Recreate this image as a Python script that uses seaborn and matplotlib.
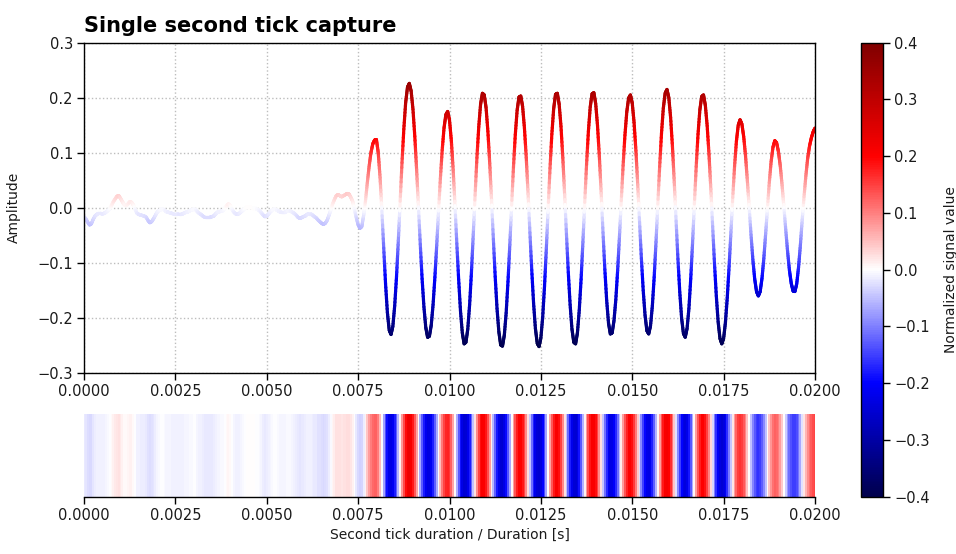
import numpy as np
import matplotlib
matplotlib.use("Agg")
import matplotlib.pyplot as plt
import seaborn as sns
from matplotlib.collections import LineCollection
from matplotlib.colors import Normalize

# ---------------- data ----------------
SAMPLE_STEP = 0.00005  # seconds between samples

# quiet part before the tick (t = 0 ... 0.00765 s)
pre_tick_signal = [
    -0.016, -0.020, -0.026, -0.031, -0.029, -0.021, -0.015, -0.012, -0.010, -0.010,
    -0.011, -0.010, -0.008, -0.005, -0.002, 0.004, 0.011, 0.016, 0.021, 0.022,
    0.017, 0.011, 0.006, 0.004, 0.007, 0.011, 0.010, 0.005, -0.003, -0.010,
    -0.012, -0.013, -0.014, -0.015, -0.017, -0.023, -0.027, -0.025, -0.020, -0.014,
    -0.008, -0.005, -0.003, -0.002, -0.004, -0.007, -0.008, -0.009, -0.010, -0.011,
    -0.011, -0.011, -0.012, -0.012, -0.011, -0.009, -0.008, -0.007, -0.005, -0.004,
    -0.002, -0.003, -0.007, -0.010, -0.012, -0.015, -0.017, -0.017, -0.017, -0.017,
    -0.016, -0.015, -0.011, -0.008, -0.007, -0.006, -0.005, -0.001, 0.004, 0.007,
    0.004, -0.003, -0.008, -0.011, -0.012, -0.010, -0.007, -0.004, -0.001, 0.001,
    0.001, 0.001, 0.000, 0.000, -0.001, -0.003, -0.005, -0.009, -0.013, -0.016,
    -0.015, -0.011, -0.007, -0.004, -0.002, -0.003, -0.005, -0.007, -0.008, -0.008,
    -0.008, -0.006, -0.005, -0.006, -0.008, -0.010, -0.013, -0.017, -0.019, -0.018,
    -0.016, -0.015, -0.012, -0.011, -0.011, -0.013, -0.016, -0.018, -0.022, -0.025,
    -0.028, -0.030, -0.028, -0.023, -0.014, -0.004, 0.007, 0.015, 0.022, 0.024,
    0.022, 0.020, 0.022, 0.024, 0.026, 0.025, 0.019, 0.012, -0.003, -0.018,
    -0.031, -0.037, -0.034, -0.014,
]

# the tick tone itself (t = 0.0077 ... 0.0200 s)
tick_signal = [
    0.012, 0.045, 0.075, 0.100, 0.116, 0.123,
    0.124, 0.100, 0.055, -0.006, -0.073, -0.138, -0.190, -0.222, -0.230, -0.215,
    -0.178, -0.125, -0.059, 0.012, 0.082, 0.143, 0.191, 0.219, 0.226, 0.212,
    0.179, 0.130, 0.069, 0.002, -0.066, -0.129, -0.180, -0.217, -0.235, -0.233,
    -0.213, -0.176, -0.126, -0.068, -0.006, 0.053, 0.105, 0.145, 0.169, 0.175,
    0.159, 0.122, 0.069, 0.004, -0.065, -0.130, -0.187, -0.227, -0.247, -0.244,
    -0.220, -0.176, -0.117, -0.048, 0.023, 0.091, 0.147, 0.188, 0.208, 0.205,
    0.182, 0.139, 0.081, 0.014, -0.057, -0.125, -0.183, -0.225, -0.249, -0.251,
    -0.231, -0.191, -0.134, -0.067, 0.005, 0.074, 0.133, 0.177, 0.201, 0.203,
    0.184, 0.145, 0.091, 0.025, -0.045, -0.113, -0.173, -0.219, -0.246, -0.252,
    -0.236, -0.198, -0.142, -0.073, 0.001, 0.072, 0.134, 0.180, 0.206, 0.208,
    0.188, 0.148, 0.091, 0.024, -0.048, -0.117, -0.176, -0.220, -0.244, -0.247,
    -0.227, -0.186, -0.130, -0.062, 0.010, 0.079, 0.139, 0.183, 0.207, 0.209,
    0.189, 0.149, 0.093, 0.026, -0.045, -0.112, -0.168, -0.209, -0.229, -0.227,
    -0.205, -0.167, -0.114, -0.052, 0.013, 0.077, 0.132, 0.174, 0.199, 0.205,
    0.190, 0.155, 0.104, 0.042, -0.026, -0.092, -0.150, -0.195, -0.223, -0.229,
    -0.214, -0.178, -0.126, -0.062, 0.007, 0.075, 0.135, 0.181, 0.208, 0.215,
    0.200, 0.164, 0.111, 0.046, -0.024, -0.093, -0.153, -0.200, -0.228, -0.235,
    -0.219, -0.183, -0.129, -0.064, 0.007, 0.075, 0.134, 0.178, 0.202, 0.205,
    0.186, 0.149, 0.097, 0.034, -0.034, -0.101, -0.160, -0.207, -0.237, -0.247,
    -0.237, -0.208, -0.163, -0.106, -0.044, 0.019, 0.076, 0.121, 0.150, 0.160,
    0.152, 0.129, 0.094, 0.049, 0.000, -0.049, -0.094, -0.129, -0.152, -0.160,
    -0.152, -0.128, -0.092, -0.047, 0.000, 0.046, 0.084, 0.110, 0.122, 0.118,
    0.102, 0.076, 0.041, 0.001, -0.040, -0.079, -0.113, -0.137, -0.151, -0.152,
    -0.138, -0.108, -0.068, -0.022, 0.020, 0.058, 0.090, 0.112, 0.127, 0.138,
    0.145,
]

x_ticks = [0.0, 0.0025, 0.005, 0.0075, 0.01, 0.0125, 0.015, 0.0175, 0.02]
x_tick_labels = ["0.0000", "0.0025", "0.0050", "0.0075", "0.0100",
                 "0.0125", "0.0150", "0.0175", "0.0200"]
y_ticks = [-0.3, -0.2, -0.1, 0.0, 0.1, 0.2, 0.3]
y_tick_labels = ["\u22120.3", "\u22120.2", "\u22120.1", "0.0", "0.1", "0.2", "0.3"]
cbar_ticks = [-0.4, -0.3, -0.2, -0.1, 0.0, 0.1, 0.2, 0.3, 0.4]
cbar_tick_labels = ["\u22120.4", "\u22120.3", "\u22120.2", "\u22120.1", "0.0",
                    "0.1", "0.2", "0.3", "0.4"]

title_text = "Single second tick capture"
y_label = "Amplitude"
x_label = "Second tick duration / Duration [s]"
cbar_label = "Normalized signal value"

# ---------------- styling ----------------
sns.set_theme(style="ticks")
plt.rcParams["font.family"] = ["DejaVu Sans"]
plt.rcParams["axes.unicode_minus"] = True

signal = np.array(pre_tick_signal + tick_signal)
time = np.arange(len(signal)) * SAMPLE_STEP

fig = plt.figure(figsize=(9.56, 5.54), dpi=100)
ax = fig.add_axes([0.0879, 0.3267, 0.7646, 0.5963])
ax_strip = fig.add_axes([0.0879, 0.1035, 0.7646, 0.1492])
cax = fig.add_axes([0.9006, 0.1035, 0.0230, 0.8195])

# ---------------- top: value-coloured waveform ----------------
sub = 8
frac = np.linspace(0.0, 1.0, sub + 1)
segs = []
seg_vals = []
for i in range(len(signal) - 1):
    xs = time[i] + (time[i + 1] - time[i]) * frac
    ys = signal[i] + (signal[i + 1] - signal[i]) * frac
    for j in range(sub):
        segs.append([(xs[j], ys[j]), (xs[j + 1], ys[j + 1])])
        seg_vals.append(0.5 * (ys[j] + ys[j + 1]))
lim = float(np.max(np.abs(signal)))
lc = LineCollection(segs, cmap="seismic", norm=Normalize(-lim, lim),
                    linewidths=2.3, capstyle="round", joinstyle="round")
lc.set_array(np.array(seg_vals))
ax.add_collection(lc)

ax.set_xlim(x_ticks[0], x_ticks[-1])
ax.set_ylim(y_ticks[0], y_ticks[-1])
ax.set_xticks(x_ticks, labels=x_tick_labels)
ax.set_yticks(y_ticks, labels=y_tick_labels)
ax.grid(True, linestyle=":", color="#bdbdbd", linewidth=1.0)
ax.set_axisbelow(True)
for s in ax.spines.values():
    s.set_visible(True)
    s.set_color("black")
    s.set_linewidth(1.0)
ax.tick_params(axis="both", direction="out", length=5, width=1, color="black",
               labelsize=10.5, labelcolor="#1a1a1a", pad=3)
ax.set_ylabel(y_label, fontsize=10, color="#1a1a1a", labelpad=12)
ax.set_title(title_text, loc="left", fontsize=15, fontweight="bold",
             color="black", pad=8)

# ---------------- bottom: heat strip + colorbar ----------------
sns.heatmap(signal[np.newaxis, :], ax=ax_strip, cmap="seismic",
            vmin=cbar_ticks[0], vmax=cbar_ticks[-1], cbar_ax=cax,
            xticklabels=False, yticklabels=False)
ax_strip.set_xlim(0.5, len(signal) - 0.5)
ax_strip.set_xticks(np.array(x_ticks) / SAMPLE_STEP + 0.5, labels=x_tick_labels)
ax_strip.set_yticks([])
ax_strip.spines["bottom"].set_visible(True)
ax_strip.spines["bottom"].set_color("black")
ax_strip.spines["bottom"].set_linewidth(1.0)
ax_strip.tick_params(axis="x", bottom=True, direction="out", length=5, width=1,
                     color="black", labelsize=10.5, labelcolor="#1a1a1a", pad=3)
ax_strip.set_xlabel(x_label, fontsize=10, color="#1a1a1a", labelpad=4)

cb = ax_strip.collections[0].colorbar
cb.outline.set_visible(True)
cb.outline.set_linewidth(1.0)
cb.outline.set_edgecolor("black")
cb.set_ticks(cbar_ticks, labels=cbar_tick_labels)
cb.ax.tick_params(direction="out", length=5, width=1, color="black",
                  labelsize=10.5, labelcolor="#1a1a1a", pad=3)
cb.set_label(cbar_label, fontsize=10, color="#1a1a1a", labelpad=10)

fig.savefig("out.png", dpi=100)
